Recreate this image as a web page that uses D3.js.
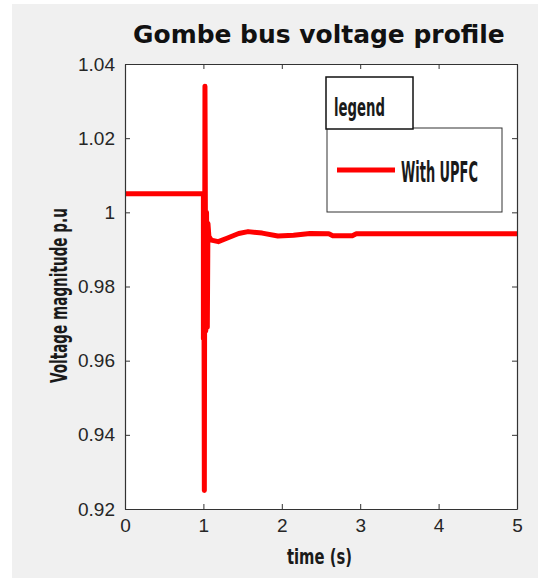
<!DOCTYPE html>
<html>
<head>
<meta charset="utf-8">
<script src="https://cdn.jsdelivr.net/npm/d3@7"></script>
<style>
  body { margin: 0; background: #fff; }
  svg { display: block; }
</style>
</head>
<body>
<svg id="canvas" width="538" height="578"></svg>
<script>
const width = 538;
const height = 578;

const timeS = [0, 0.99, 1.0, 1.0, 1.005, 1.012, 1.02, 1.03, 1.04, 1.05, 1.058, 1.07, 1.1, 1.19, 1.3, 1.45, 1.57, 1.75, 1.95, 2.15, 2.36, 2.6, 2.65, 2.9, 2.95, 3.5, 4, 5];
const voltage = [1.005, 1.005, 1.005, 0.966, 1.005, 0.925, 1.034, 0.968, 1.0, 0.969, 0.997, 0.9935, 0.9925, 0.9921, 0.9930, 0.9943, 0.9948, 0.9944, 0.9936, 0.9938, 0.9943, 0.9942, 0.9937, 0.9937, 0.9942, 0.9942, 0.9942, 0.9942];
const xTicks = [0, 1, 2, 3, 4, 5];
const yTicks = [0.92, 0.94, 0.96, 0.98, 1.0, 1.02, 1.04];
const seriesName = "With UPFC";

const plot = {left: 125, right: 517, top: 64, bottom: 509};

const svg = d3.select("#canvas");

// figure background, white margin on left/top like the screenshot
svg.append("rect")
    .attr("x", 12).attr("y", 4)
    .attr("width", width - 12).attr("height", height - 4)
    .attr("fill", "#f0f0f0");

const x = d3.scaleLinear().domain([0, 5]).range([plot.left, plot.right]);
const y = d3.scaleLinear().domain([0.92, 1.04]).range([plot.bottom, plot.top]);

svg.append("rect")
    .attr("x", plot.left).attr("y", plot.top)
    .attr("width", plot.right - plot.left).attr("height", plot.bottom - plot.top)
    .attr("fill", "#fff");

svg.append("clipPath").attr("id", "clip")
    .append("rect")
    .attr("x", plot.left).attr("y", plot.top)
    .attr("width", plot.right - plot.left).attr("height", plot.bottom - plot.top);

const pts = timeS.map((t, i) => [t, voltage[i]]);

const line = d3.line()
    .x(d => x(d[0]))
    .y(d => y(d[1]));

svg.append("path")
    .datum(pts)
    .attr("clip-path", "url(#clip)")
    .attr("d", line)
    .attr("fill", "none")
    .attr("stroke", "#ff0000")
    .attr("stroke-width", 5)
    .attr("stroke-linejoin", "round")
    .attr("stroke-linecap", "round");

// axes, ticks pointing inward on all four sides
const tickFont = "'Liberation Sans', Arial, sans-serif";

const xBottom = svg.append("g")
    .attr("transform", `translate(0,${plot.bottom})`)
    .call(d3.axisBottom(x).tickValues(xTicks).tickSizeInner(-5).tickSizeOuter(0).tickPadding(12).tickFormat(d3.format("d")));
const xTop = svg.append("g")
    .attr("transform", `translate(0,${plot.top})`)
    .call(d3.axisTop(x).tickValues(xTicks).tickSizeInner(-5).tickSizeOuter(0).tickFormat(""));
const yLeft = svg.append("g")
    .attr("transform", `translate(${plot.left},0)`)
    .call(d3.axisLeft(y).tickValues(yTicks).tickSizeInner(-5).tickSizeOuter(0).tickPadding(10).tickFormat(d => d === 1 ? "1" : d3.format(".2f")(d)));
const yRight = svg.append("g")
    .attr("transform", `translate(${plot.right},0)`)
    .call(d3.axisRight(y).tickValues(yTicks).tickSizeInner(-5).tickSizeOuter(0).tickFormat(""));

[xBottom, xTop, yLeft, yRight].forEach(g => {
    g.select(".domain").attr("stroke", "#333").attr("stroke-width", 1.2);
    g.selectAll(".tick line").attr("stroke", "#333");
    g.selectAll(".tick text")
        .attr("fill", "#262626")
        .style("font-family", tickFont)
        .style("font-size", "19px");
});
xBottom.selectAll(".tick text").attr("dy", "0.6em");

// squeeze a text horizontally to a given width (the reference uses a narrow font)
function narrowText(px, py, w, size, str, rotate) {
    const t = svg.append("text")
        .attr("x", 0).attr("y", 0)
        .style("font-family", "'DejaVu Sans Condensed', 'DejaVu Sans', sans-serif")
        .style("font-weight", "bold")
        .style("font-size", size + "px")
        .attr("fill", "#1a1a1a")
        .text(str);
    const natural = t.node().getComputedTextLength();
    const k = w / natural;
    const r = rotate ? " rotate(-90)" : "";
    t.attr("transform", `translate(${px},${py})${r} scale(${k},1)`);
    return t;
}

// title
const title = svg.append("text")
    .attr("x", 0).attr("y", 0)
    .style("font-family", "'DejaVu Sans', sans-serif")
    .style("font-weight", "bold")
    .style("font-size", "25px")
    .attr("fill", "#111")
    .text("Gombe bus voltage profile");
const tw = title.node().getComputedTextLength();
title.attr("transform", `translate(133,43) scale(${372 / tw},1)`);

narrowText(287, 564, 65, 22, "time (s)");
narrowText(67, 383, 175, 23, "Voltage magnitude p.u", true);

// legend
svg.append("rect")
    .attr("x", 327).attr("y", 128)
    .attr("width", 175).attr("height", 84)
    .attr("fill", "#fff").attr("stroke", "#333").attr("stroke-width", 1);
svg.append("rect")
    .attr("x", 326).attr("y", 77)
    .attr("width", 87).attr("height", 52)
    .attr("fill", "#fff").attr("stroke", "#111").attr("stroke-width", 1.5);
narrowText(334, 116, 51, 25, "legend");
svg.append("line")
    .attr("x1", 337).attr("x2", 395)
    .attr("y1", 170).attr("y2", 170)
    .attr("stroke", "#ff0000").attr("stroke-width", 5);
narrowText(401, 182, 77, 29, seriesName);
</script>
</body>
</html>
